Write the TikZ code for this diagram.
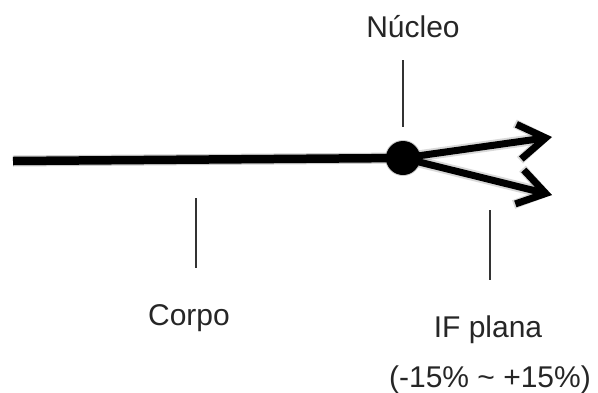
\documentclass[tikz,border=0pt]{standalone}
\usepackage{fontspec}
\setmainfont{Liberation Sans}
\usetikzlibrary{arrows.meta}
\begin{document}
\begin{tikzpicture}[x=1pt,y=-1pt,
  lbl/.style={font=\fontsize{30}{34}\selectfont, text=black!85, inner sep=0pt, anchor=base},
  leader/.style={draw=black!80, line width=1.3pt},
  thick line/.style={line width=8.5pt},
  arr/.style={line width=7pt, -{Straight Barb[length=27pt,width=35pt,line width=7pt]}},
  shadow/.style={draw=black, opacity=0.2, line width=11pt}]
\useasboundingbox (0,0) rectangle (598,392);
\coordinate (L) at (13,161);
\coordinate (C) at (403,158);
\coordinate (T1) at (552,137);
\coordinate (T2) at (552,195);
% shadows
\begin{scope}[shift={(4,7)}]
  \draw[shadow] (L) -- (C);
  \fill[black, opacity=0.2] (C) circle (18);
  \draw[shadow, opacity=0.15, -{Straight Barb[length=27pt,width=37pt,line width=9pt]}] (C) -- (T1);
  \draw[shadow, opacity=0.15, -{Straight Barb[length=27pt,width=37pt,line width=9pt]}] (C) -- (T2);
\end{scope}
% main
\draw[thick line] (L) -- (C);
\draw[arr] (C) -- (T1);
\draw[arr] (C) -- (T2);
\node[circle, fill=black, minimum size=34pt, inner sep=0pt] (dot) at (C) {};
% labels
\node[lbl] (nucleo) at (413,37) {Núcleo};
\node[lbl] (corpo) at (189,325) {Corpo};
\node[lbl] (ifp) at (488,337) {IF plana};
\node[lbl] (range) at (490,387) {(-15\% \textasciitilde{} +15\%)};
% leaders
\coordinate (n1) at (403,60); \coordinate (n2) at (403,127);
\coordinate (c1) at (196,198); \coordinate (c2) at (196,268);
\coordinate (i1) at (490,210); \coordinate (i2) at (490,280);
\draw[leader] (n1) -- (n2);
\draw[leader] (c1) -- (c2);
\draw[leader] (i1) -- (i2);
\end{tikzpicture}
\end{document}
